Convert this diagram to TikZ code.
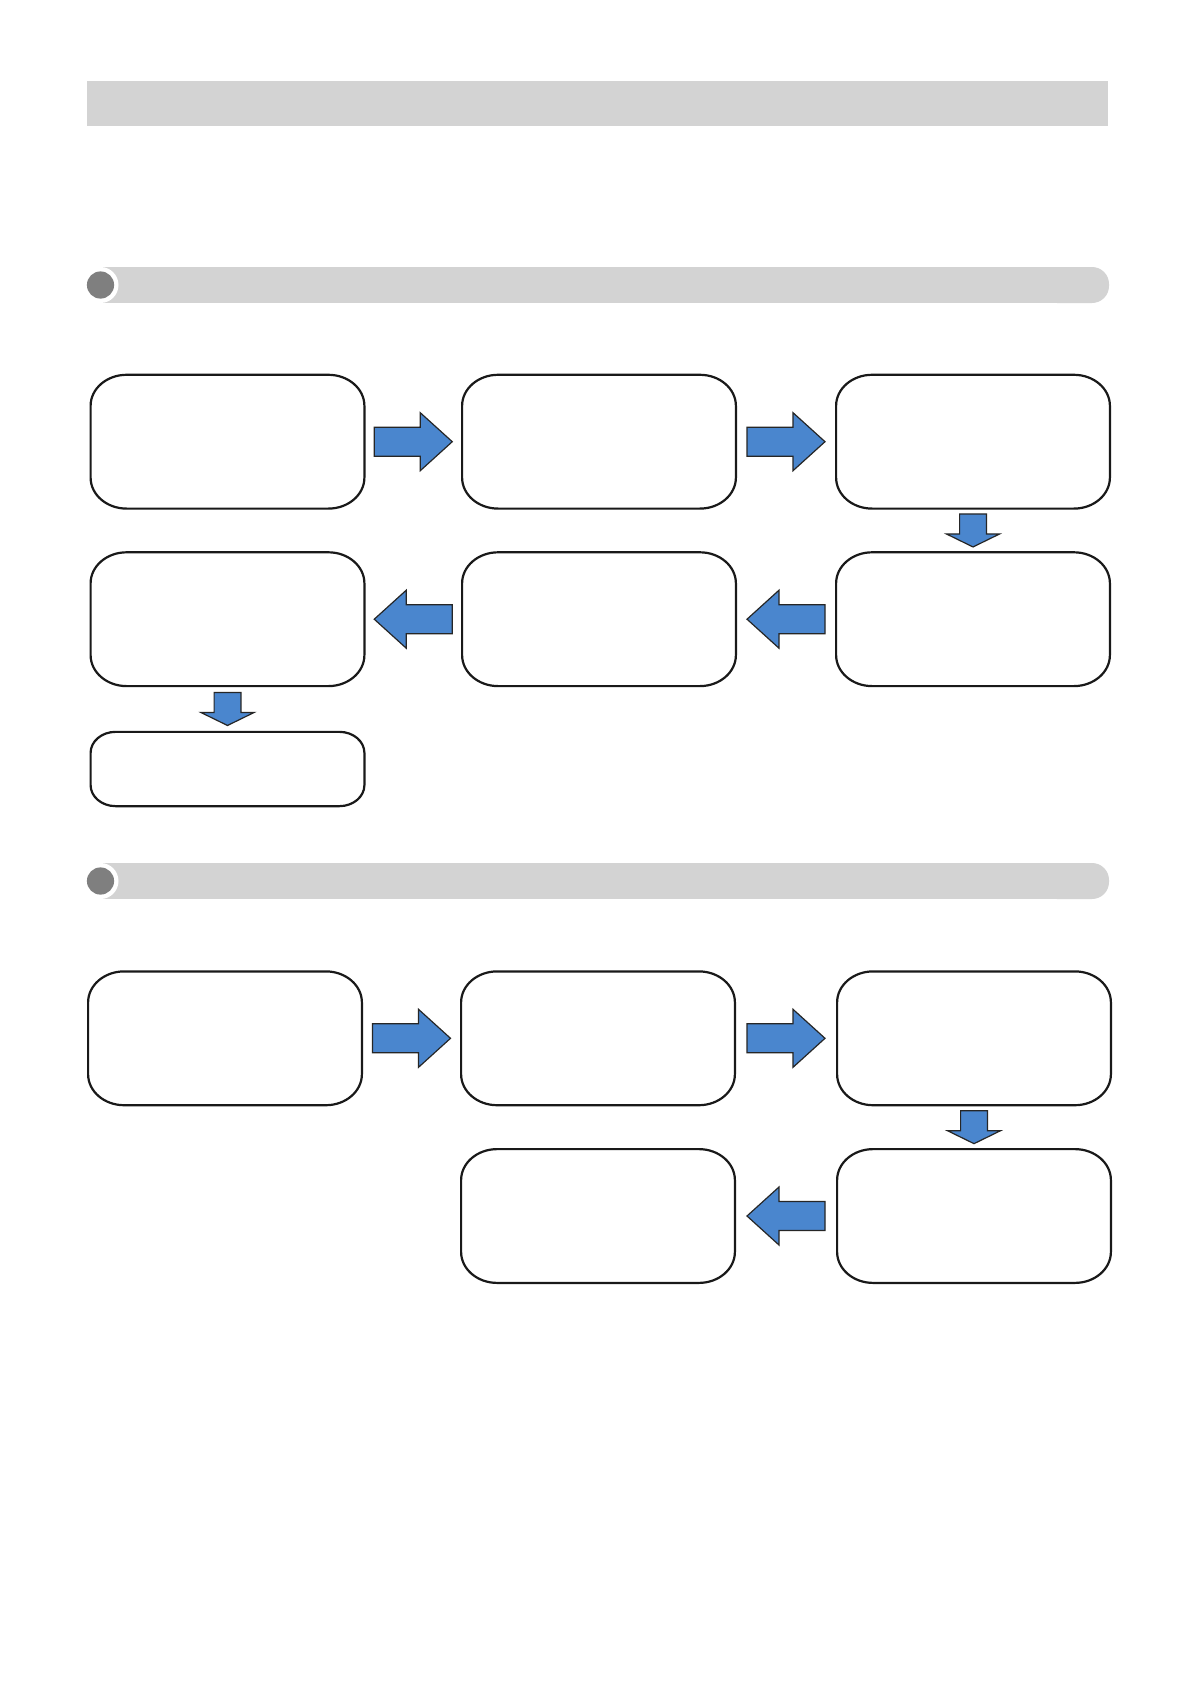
\documentclass[tikz,border=0pt]{standalone}
\usetikzlibrary{calc}
\definecolor{bargray}{HTML}{D3D3D3}
\definecolor{dotgray}{HTML}{7F7F7F}
\definecolor{arrowblue}{HTML}{4A86CE}
\tikzset{
  box/.style={draw=none, minimum width=136.5pt, minimum height=66.5pt, inner sep=0pt},
  shortbox/.style={box, minimum height=36.75pt},
  boxline/.style={draw=black!90, line width=1.1pt, fill=white},
  blockarrow/.style={fill=arrowblue, draw=black!85, line width=0.6pt, line join=miter},
  rarr/.pic={\path[blockarrow] (-39,-14.5) -- (7,-14.5) -- (7,-29) -- (39,0) -- (7,29) -- (7,14.5) -- (-39,14.5) -- cycle;},
  larr/.pic={\path[blockarrow] (39,-14.5) -- (-7,-14.5) -- (-7,-29) -- (-39,0) -- (-7,29) -- (-7,14.5) -- (39,14.5) -- cycle;},
  darr/.pic={\path[blockarrow] (-13.4,-16.5) -- (13.4,-16.5) -- (13.4,3.5) -- (26.6,3.5) -- (0,16.5) -- (-26.6,3.5) -- (-13.4,3.5) -- cycle;},
}
% outline of a box with elliptical corners: name, x radius, y radius (px units)
\newcommand\roundbox[3]{%
  \path[boxline] ($(#1.north west)+(#2,0)$) -- ($(#1.north east)+(-#2,0)$)
    .. controls ($(#1.north east)+(-#2*0.4477,0)$) and ($(#1.north east)+(0,#3*0.4477)$) .. ($(#1.north east)+(0,#3)$)
    -- ($(#1.south east)+(0,-#3)$)
    .. controls ($(#1.south east)+(0,-#3*0.4477)$) and ($(#1.south east)+(-#2*0.4477,0)$) .. ($(#1.south east)+(-#2,0)$)
    -- ($(#1.south west)+(#2,0)$)
    .. controls ($(#1.south west)+(#2*0.4477,0)$) and ($(#1.south west)+(0,-#3*0.4477)$) .. ($(#1.south west)+(0,-#3)$)
    -- ($(#1.north west)+(0,#3)$)
    .. controls ($(#1.north west)+(0,#3*0.4477)$) and ($(#1.north west)+(#2*0.4477,0)$) .. ($(#1.north west)+(#2,0)$)
    -- cycle;%
}
\begin{document}
\begin{tikzpicture}[x=0.5pt,y=-0.5pt]
\useasboundingbox (0,0) rectangle (1192,1685);
\fill[white] (0,0) rectangle (1192,1685);
% header bar
\fill[bargray] (87,81) rectangle (1108,126);
% section bars
\foreach \yy in {285,881}{
  \fill[bargray] (100.5,\yy-18) rectangle (1080,\yy+18);
  \fill[bargray, rounded corners=8.5pt] (1040,\yy-18) rectangle (1109,\yy+18);
  \fill[white] (100.5,\yy) circle[radius=9pt];
  \fill[dotgray] (100.5,\yy) circle[radius=6.8pt];
}
% section 1
\node[box] (a1) at (227.5,441.7) {};
\node[box] (a2) at (599,441.7) {};
\node[box] (a3) at (973,441.7) {};
\node[box] (a4) at (227.5,619.2) {};
\node[box] (a5) at (599,619.2) {};
\node[box] (a6) at (973,619.2) {};
\node[shortbox] (a7) at (227.5,769) {};
\foreach \n in {a1,a2,a3,a4,a5,a6}{\roundbox{\n}{36}{31}}
\roundbox{a7}{25}{21}
\pic at ($(a1.east)!0.5!(a2.west)$) {rarr};
\pic at ($(a2.east)!0.5!(a3.west)$) {rarr};
\pic at ($(a3.south)!0.5!(a6.north)$) {darr};
\pic at ($(a6.west)!0.5!(a5.east)$) {larr};
\pic at ($(a5.west)!0.5!(a4.east)$) {larr};
\pic at ($(a4.south)!0.5!(a7.north)$) {darr};
% section 2
\node[box] (b1) at (225,1038.3) {};
\node[box] (b2) at (598,1038.3) {};
\node[box] (b3) at (974,1038.3) {};
\node[box] (b4) at (598,1216) {};
\node[box] (b5) at (974,1216) {};
\foreach \n in {b1,b2,b3,b4,b5}{\roundbox{\n}{36}{31}}
\pic at ($(b1.east)!0.5!(b2.west)$) {rarr};
\pic at ($(b2.east)!0.5!(b3.west)$) {rarr};
\pic at ($(b3.south)!0.5!(b5.north)$) {darr};
\pic at ($(b5.west)!0.5!(b4.east)$) {larr};
\end{tikzpicture}
\end{document}
